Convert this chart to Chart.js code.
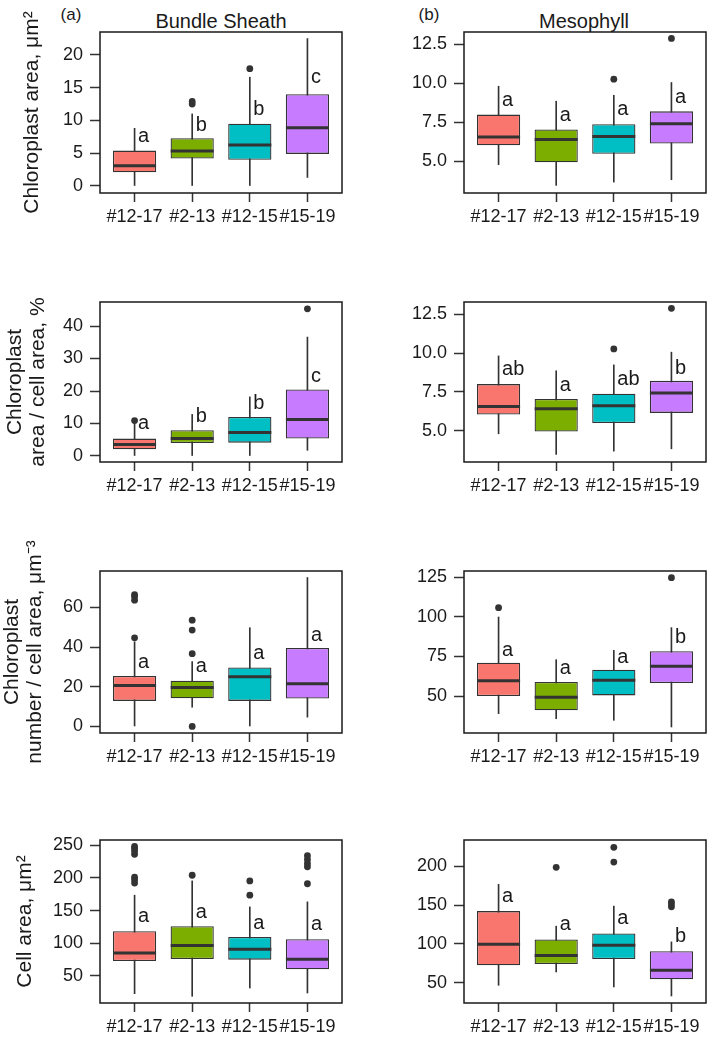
<!DOCTYPE html>
<html>
<head>
<meta charset="utf-8">
<script src="https://cdn.jsdelivr.net/npm/chart.js@4.4.0/dist/chart.umd.min.js"></script>
<style>
  body { margin: 0; background: #fff; width: 709px; height: 1037px; position: relative; overflow: hidden; }
  canvas { position: absolute; }
  .lbl { position: absolute; transform: translate(-50%, -50%); line-height: 1; white-space: nowrap;
         font-family: "Liberation Sans", Arial, sans-serif; color: #1a1a1a; }
</style>
</head>
<body>
<div class="lbl" style="left:71px;top:14px;font-size:17px">(a)</div>
<div class="lbl" style="left:221px;top:21px;font-size:20px">Bundle Sheath</div>
<div class="lbl" style="left:429px;top:14px;font-size:17px">(b)</div>
<div class="lbl" style="left:584px;top:21px;font-size:20px">Mesophyll</div>

<canvas id="p1" width="352" height="240" style="left:0;top:0"></canvas>
<canvas id="p2" width="349" height="240" style="left:360px;top:0"></canvas>
<canvas id="p3" width="352" height="250" style="left:0;top:250px"></canvas>
<canvas id="p4" width="349" height="250" style="left:360px;top:250px"></canvas>
<canvas id="p5" width="352" height="260" style="left:0;top:510px"></canvas>
<canvas id="p6" width="349" height="260" style="left:360px;top:510px"></canvas>
<canvas id="p7" width="352" height="257" style="left:0;top:780px"></canvas>
<canvas id="p8" width="349" height="257" style="left:360px;top:780px"></canvas>

<script>
const groups = ['#12-17', '#2-13', '#12-15', '#15-19'];
const fills = ['#F8766D', '#7CAE00', '#00BFC4', '#C77CFF'];

// each box: [lower whisker, Q1, median, Q3, upper whisker]
const bsAreaBoxes = [[0, 2.1, 3.1, 5.4, 8.8], [0, 4.2, 5.35, 7.3, 11.0], [0, 4.0, 6.25, 9.5, 16.6], [1.3, 4.9, 8.9, 14.0, 22.5]];
const bsAreaOut = [[], [12.5, 12.9], [17.9], []];
const bsAreaSig = ['a', 'b', 'b', 'c'];
const bsAreaSigY = [7.5, 9.3, 11.75, 16.5];
const bsAreaTicks = [0, 5, 10, 15, 20];

const bsRatioBoxes = [[0, 2.05, 3.5, 5.35, 10.0], [0, 4.0, 5.35, 7.9, 12.8], [0, 4.1, 7.2, 12.0, 18.2], [1.75, 5.35, 11.2, 20.5, 36.6]];
const bsRatioOut = [[10.9], [], [], [45.3]];
const bsRatioSig = ['a', 'b', 'b', 'c'];
const bsRatioSigY = [10.0, 12.3, 16.3, 24.5];
const bsRatioTicks = [0, 10, 20, 30, 40];

const bsNumBoxes = [[0, 12.9, 20.6, 25.5, 42.7], [9.7, 14.2, 19.6, 23.1, 32.7], [0, 12.9, 25.1, 29.7, 49.8], [4.7, 14.1, 21.5, 39.6, 75.1]];
const bsNumOut = [[44.7, 63.7, 65.5, 66.5], [0, 36.7, 48.6, 53.6], [], []];
const bsNumSig = ['a', 'a', 'a', 'a'];
const bsNumSigY = [32.4, 30.2, 36.9, 46.1];
const bsNumTicks = [0, 20, 40, 60];

const bsCellBoxes = [[23, 73, 85.2, 118.4, 173.5], [19, 76, 96.5, 126, 195.4], [31.6, 75, 90.9, 109.7, 155.6], [24, 60.3, 75.6, 106.2, 163.3]];
const bsCellOut = [[192, 197, 201, 236, 241, 245, 248], [204], [173.5, 195.4], [191, 217, 222, 228, 234]];
const bsCellSig = ['a', 'a', 'a', 'a'];
const bsCellSigY = [140.3, 146.4, 130.2, 128.7];
const bsCellTicks = [50, 100, 150, 200, 250];

const mAreaBoxes = [[4.79, 6.03, 6.56, 8.0, 9.82], [3.46, 4.94, 6.41, 7.04, 8.86], [3.67, 5.49, 6.6, 7.38, 9.24], [3.82, 6.14, 7.42, 8.21, 10.06]];
const mAreaOut = [[], [], [10.27], [12.89]];
const mAreaSig = ['a', 'a', 'a', 'a'];
const mAreaSigY = [8.92, 7.96, 8.34, 9.13];
const mAreaTicks = [5, 7.5, 10, 12.5];

// the ratio panel of the mesophyll repeats the same boxes
const mRatioSig = ['ab', 'a', 'ab', 'b'];
const mRatioSigY = [8.92, 7.9, 8.28, 9.03];

const mNumBoxes = [[38.9, 50, 59.7, 71.0, 99.8], [35.7, 41, 49.2, 58.8, 72.9], [34.7, 50.4, 59.9, 66.6, 78.8], [30.5, 58.2, 68.7, 78.2, 93.1]];
const mNumOut = [[105.7], [], [], [124.6]];
const mNumSig = ['a', 'a', 'a', 'b'];
const mNumSigY = [78.8, 67.3, 74.6, 86.8];
const mNumTicks = [50, 75, 100, 125];

const mCellBoxes = [[47, 72.7, 99.7, 142.2, 176.5], [64.1, 74.4, 85.2, 105.8, 122.9], [44.9, 80.8, 98.5, 113.5, 148.6], [33.3, 54.7, 66.3, 90.7, 102.7]];
const mCellOut = [[], [198.3], [205.1, 224], [147.7, 151.2, 154.1]];
const mCellSig = ['a', 'a', 'a', 'b'];
const mCellSigY = [160.5, 125, 132.8, 109.1];
const mCellTicks = [50, 100, 150, 200];

Chart.defaults.font.family = '"Liberation Sans", Arial, sans-serif';
Chart.defaults.color = '#1a1a1a';

const ink = '#333333';

// frame round the plot area and the significance letters
const boxExtras = {
  id: 'boxExtras',
  afterDatasetsDraw(chart, args, opts) {
    const {ctx, chartArea: a, scales: {x, y}} = chart;
    ctx.save();
    ctx.font = '20px "Liberation Sans", Arial, sans-serif';
    ctx.fillStyle = '#1a1a1a';
    ctx.textAlign = 'left';
    ctx.textBaseline = 'middle';
    opts.sig.forEach((s, i) => {
      ctx.fillText(s, x.getPixelForValue(i + 1.06), y.getPixelForValue(opts.sigY[i]));
    });
    ctx.strokeStyle = '#1a1a1a';
    ctx.lineWidth = 1.5;
    ctx.strokeRect(a.left, a.top, a.right - a.left, a.bottom - a.top);
    ctx.restore();
  }
};

const cols = [{yW: 100, padR: 10}, {yW: 104, padR: 3}];
const rows = [{padT: 32, frameH: 161}, {padT: 52, frameH: 160}, {padT: 61, frameH: 162}, {padT: 60, frameH: 163}];

function panel(id, row, col, p) {
  const canvas = document.getElementById(id);
  const r = rows[row], c = cols[col];
  const xH = canvas.height - r.padT - r.frameH;
  const datasets = [
    {
      type: 'bar', order: 4, grouped: false, barThickness: 1,
      data: p.boxes.map((b, i) => ({x: i + 1, y: [b[0], b[4]]})),
      backgroundColor: ink
    },
    {
      type: 'bar', order: 3, grouped: false, categoryPercentage: 1, barPercentage: 0.75,
      data: p.boxes.map((b, i) => ({x: i + 1, y: [b[1], b[3]]})),
      backgroundColor: fills, borderColor: ink, borderWidth: 1.3, borderSkipped: false
    },
    {
      type: 'scatter', order: 2,
      data: p.boxes.map((b, i) => ({x: i + 1, y: b[2]})),
      pointStyle: 'line', pointRadius: 21.5, borderColor: ink, borderWidth: 3
    },
    {
      type: 'scatter', order: 1,
      data: p.out.flatMap((o, i) => o.map(v => ({x: i + 1, y: v}))),
      pointRadius: 3.4, backgroundColor: ink, borderWidth: 0
    }
  ];

  new Chart(canvas, {
    type: 'bar',
    data: {datasets},
    plugins: [boxExtras],
    options: {
      responsive: false,
      animation: false,
      devicePixelRatio: 1,
      layout: {autoPadding: false, padding: {top: r.padT, left: 0, right: c.padR, bottom: 0}},
      plugins: {
        legend: {display: false},
        tooltip: {enabled: false},
        boxExtras: {sig: p.sig, sigY: p.sigY}
      },
      scales: {
        x: {
          type: 'linear', min: 0.4, max: 4.6, offset: false,
          afterBuildTicks: s => { s.ticks = groups.map((g, i) => ({value: i + 1})); },
          afterFit: s => { s.height = xH; s.paddingLeft = 0; s.paddingRight = 0; },
          ticks: {
            callback: v => groups[v - 1],
            autoSkip: false, maxRotation: 0, padding: 4,
            font: {size: 18}, color: '#1a1a1a'
          },
          grid: {offset: false, drawOnChartArea: false, tickLength: 9, tickWidth: 1.5, tickColor: ink},
          border: {display: false}
        },
        y: {
          min: p.min, max: p.max,
          afterBuildTicks: s => { s.ticks = p.ticks.map(v => ({value: v})); },
          afterFit: s => { s.width = c.yW; s.paddingTop = 0; s.paddingBottom = 0; },
          ticks: {
            callback: v => p.dec ? v.toFixed(p.dec) : String(v),
            padding: 7, font: {size: 18}, color: '#1a1a1a'
          },
          grid: {drawOnChartArea: false, tickLength: 10, tickWidth: 1.5, tickColor: ink},
          border: {display: false},
          title: p.title ? {
            display: true, text: p.title,
            font: {size: 21, lineHeight: p.lh || 1.2},
            padding: {top: p.titlePad, bottom: 0},
            color: '#1a1a1a'
          } : {display: false}
        }
      }
    }
  });
}

panel('p1', 0, 0, {boxes: bsAreaBoxes, out: bsAreaOut, sig: bsAreaSig, sigY: bsAreaSigY, ticks: bsAreaTicks,
  min: -1.07, max: 23.5, title: 'Chloroplast area, μm²', titlePad: 20});
panel('p2', 0, 1, {boxes: mAreaBoxes, out: mAreaOut, sig: mAreaSig, sigY: mAreaSigY, ticks: mAreaTicks,
  min: 2.97, max: 13.3, dec: 1});
panel('p3', 1, 0, {boxes: bsRatioBoxes, out: bsRatioOut, sig: bsRatioSig, sigY: bsRatioSigY, ticks: bsRatioTicks,
  min: -1.85, max: 47.4, title: ['Chloroplast', 'area / cell area, %'], titlePad: 4, lh: 1.1});
panel('p4', 1, 1, {boxes: mAreaBoxes, out: mAreaOut, sig: mRatioSig, sigY: mRatioSigY, ticks: mAreaTicks,
  min: 2.97, max: 13.3, dec: 1});
panel('p5', 2, 0, {boxes: bsNumBoxes, out: bsNumOut, sig: bsNumSig, sigY: bsNumSigY, ticks: bsNumTicks,
  min: -3.3, max: 78.4, title: ['Chloroplast', 'number / cell area, μm⁻³'], titlePad: 1, lh: 1.1});
panel('p6', 2, 1, {boxes: mNumBoxes, out: mNumOut, sig: mNumSig, sigY: mNumSigY, ticks: mNumTicks,
  min: 26.7, max: 128.8});
panel('p7', 3, 0, {boxes: bsCellBoxes, out: bsCellOut, sig: bsCellSig, sigY: bsCellSigY, ticks: bsCellTicks,
  min: 8.7, max: 257.9, title: 'Cell area, μm²', titlePad: 13});
panel('p8', 3, 1, {boxes: mCellBoxes, out: mCellOut, sig: mCellSig, sigY: mCellSigY, ticks: mCellTicks,
  min: 24.3, max: 233.4});
</script>
</body>
</html>
